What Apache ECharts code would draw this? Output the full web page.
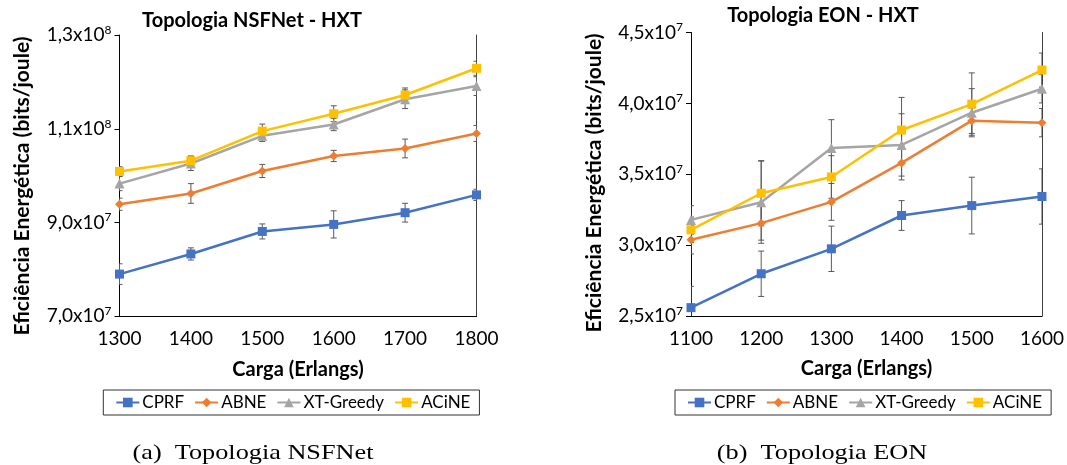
<!DOCTYPE html>
<html>
<head>
<meta charset="utf-8">
<script src="https://cdn.jsdelivr.net/npm/echarts@6/dist/echarts.min.js"></script>
<style>
html,body{margin:0;padding:0;background:#fff;}
#chart{width:1067px;height:465px;}
</style>
</head>
<body>
<div id="chart"></div>
<script>
// ---------- Data ----------
const seriesNames = ['CPRF', 'ABNE', 'XT-Greedy', 'ACiNE'];

// (a) NSFNet
const nsfCategories = ['1300', '1400', '1500', '1600', '1700', '1800'];
const nsfCPRF  = [7.90e7, 8.33e7, 8.81e7, 8.96e7, 9.21e7, 9.59e7];
const nsfABNE  = [9.39e7, 9.62e7, 1.010e8, 1.042e8, 1.058e8, 1.090e8];
const nsfXT    = [9.83e7, 1.026e8, 1.085e8, 1.109e8, 1.163e8, 1.191e8];
const nsfACiNE = [1.009e8, 1.032e8, 1.095e8, 1.132e8, 1.172e8, 1.229e8];
const nsfErrCPRF  = [2.2e6, 1.3e6, 1.6e6, 2.9e6, 2.0e6, 1.2e6];
const nsfErrABNE  = [1.3e6, 2.1e6, 1.4e6, 1.2e6, 2.0e6, 1.7e6];
const nsfErrXT    = [1.5e6, 1.5e6, 1.2e6, 1.3e6, 2.0e6, 2.0e6];
const nsfErrACiNE = [1.0e6, 1.0e6, 1.5e6, 1.7e6, 1.5e6, 1.5e6];
const nsfYTicks = [7e7, 9e7, 1.1e8, 1.3e8];
const nsfYLabels = ['7,0x10|7', '9,0x10|7', '1,1x10|8', '1,3x10|8'];

// (b) EON
const eonCategories = ['1100', '1200', '1300', '1400', '1500', '1600'];
const eonCPRF  = [2.559e7, 2.798e7, 2.974e7, 3.209e7, 3.279e7, 3.343e7];
const eonABNE  = [3.038e7, 3.155e7, 3.305e7, 3.580e7, 3.878e7, 3.864e7];
const eonXT    = [3.178e7, 3.303e7, 3.685e7, 3.707e7, 3.934e7, 4.103e7];
const eonACiNE = [3.108e7, 3.366e7, 3.481e7, 3.812e7, 3.995e7, 4.235e7];
const eonErrCPRF  = [1.5e6, 1.6e6, 1.6e6, 1.05e6, 2.0e6, 1.95e6];
const eonErrABNE  = [1.0e6, 1.2e6, 1.3e6, 1.2e6, 0.9e6, 1.0e6];
const eonErrXT    = [1.0e6, 2.9e6, 2.0e6, 2.2e6, 1.7e6, 1.0e6];
const eonErrACiNE = [0.9e6, 2.3e6, 1.5e6, 2.3e6, 2.2e6, 1.2e6];
const eonYTicks = [2.5e7, 3.0e7, 3.5e7, 4.0e7, 4.5e7];
const eonYLabels = ['2,5x10|7', '3,0x10|7', '3,5x10|7', '4,0x10|7', '4,5x10|7'];

// ---------- Styles ----------
const colors = ['#4472C4', '#ED7D31', '#A5A5A5', '#FFC000'];
const symbols = ['rect', 'diamond', 'triangle', 'rect'];
const symbolSizes = [9, 9, 10, 9];
const FONT = 'Lato, "Open Sans", sans-serif';

function labelFormatter(ticks, labels) {
  return function (v) {
    for (let i = 0; i < ticks.length; i++) {
      if (Math.abs(ticks[i] - v) < 1) {
        const parts = labels[i].split('|');
        return '{m|' + parts[0] + '}{s|' + parts[1] + '}';
      }
    }
    return '';
  };
}

function errRender(params, api) {
  const x = api.value(0);
  const lo = api.coord([x, api.value(1)]);
  const hi = api.coord([x, api.value(2)]);
  const w = 3;
  const st = { stroke: '#5a5a5a', lineWidth: 1 };
  return {
    type: 'group',
    children: [
      { type: 'line', shape: { x1: lo[0], y1: lo[1], x2: hi[0], y2: hi[1] }, style: st },
      { type: 'line', shape: { x1: lo[0] - w, y1: lo[1], x2: lo[0] + w, y2: lo[1] }, style: st },
      { type: 'line', shape: { x1: hi[0] - w, y1: hi[1], x2: hi[0] + w, y2: hi[1] }, style: st }
    ]
  };
}

function makeSeries(gridIdx, valuesList, errList) {
  const out = [];
  valuesList.forEach((vals, k) => {
    out.push({
      type: 'custom',
      name: seriesNames[k] + ' err',
      xAxisIndex: gridIdx, yAxisIndex: gridIdx * 2,
      renderItem: errRender,
      encode: { x: 0, y: [1, 2] },
      data: vals.map((v, i) => [i, v - errList[k][i], v + errList[k][i]]),
      z: 1, silent: true, clip: true
    });
  });
  valuesList.forEach((vals, k) => {
    out.push({
      type: 'line',
      name: seriesNames[k],
      xAxisIndex: gridIdx, yAxisIndex: gridIdx * 2,
      data: vals,
      symbol: symbols[k],
      symbolSize: symbolSizes[k],
      showAllSymbol: true,
      lineStyle: { color: colors[k], width: 2.5 },
      itemStyle: { color: colors[k] },
      z: 3, animation: false, clip: false
    });
  });
  return out;
}

function yAxes(gridIdx, min, max, ticks, labels) {
  return [
    {
      type: 'value', gridIndex: gridIdx, min: min, max: max,
      splitLine: { show: false },
      axisLine: { show: true, lineStyle: { color: '#000', width: 1 } },
      axisTick: { show: true, inside: false, length: 5, customValues: ticks, lineStyle: { color: '#000' } },
      axisLabel: {
        customValues: ticks,
        margin: 8,
        formatter: labelFormatter(ticks, labels),
        rich: {
          m: { fontFamily: FONT, fontSize: 19, color: '#000' },
          s: { fontFamily: FONT, fontSize: 12, color: '#000', verticalAlign: 'bottom', padding: [0, 0, 10, 0] }
        }
      }
    },
    {
      type: 'value', gridIndex: gridIdx, min: min, max: max, position: 'right',
      splitLine: { show: false },
      axisLine: { show: true, lineStyle: { color: '#404040', width: 1 } },
      axisTick: { show: false }, axisLabel: { show: false }
    }
  ];
}

function xAxis(gridIdx, cats) {
  return {
    type: 'category', gridIndex: gridIdx, data: cats, boundaryGap: false,
    axisLine: { show: true, lineStyle: { color: '#000', width: 1 } },
    axisTick: { show: false },
    axisLabel: { margin: 13, fontFamily: FONT, fontSize: 19, color: '#000' },
    name: 'Carga (Erlangs)', nameLocation: 'middle', nameGap: 43,
    nameTextStyle: { fontFamily: FONT, fontSize: 20, fontWeight: 'bold', color: '#000' }
  };
}

function legend(left) {
  return {
    data: seriesNames,
    left: left, top: 390,
    orient: 'horizontal',
    padding: [4, 9, 4, 12],
    itemGap: 10, itemWidth: 23, itemHeight: 12,
    borderColor: '#333', borderWidth: 1,
    textStyle: { fontFamily: FONT, fontSize: 17, color: '#000', padding: [0, 0, 0, -2] },
    selectedMode: false
  };
}

const option = {
  backgroundColor: '#fff',
  animation: false,
  color: colors,
  grid: [
    { left: 119.5, top: 35, width: 357, height: 281.3, containLabel: false },
    { left: 691, top: 32.5, width: 355.7, height: 283.5, containLabel: false }
  ],
  xAxis: [xAxis(0, nsfCategories), xAxis(1, eonCategories)],
  yAxis: [].concat(
    yAxes(0, 7e7, 1.3e8, nsfYTicks, nsfYLabels),
    yAxes(1, 2.5e7, 4.5e7, eonYTicks, eonYLabels)
  ),
  legend: [legend(103.3), legend(675)],
  series: [].concat(
    makeSeries(0, [nsfCPRF, nsfABNE, nsfXT, nsfACiNE], [nsfErrCPRF, nsfErrABNE, nsfErrXT, nsfErrACiNE]),
    makeSeries(1, [eonCPRF, eonABNE, eonXT, eonACiNE], [eonErrCPRF, eonErrABNE, eonErrXT, eonErrACiNE])
  ),
  graphic: [
    { type: 'text', x: 252, y: 21, style: { text: 'Topologia NSFNet - HXT', font: 'bold 20px ' + FONT, fill: '#000', textAlign: 'center', textVerticalAlign: 'middle' } },
    { type: 'text', x: 823, y: 16, style: { text: 'Topologia EON - HXT', font: 'bold 20px ' + FONT, fill: '#000', textAlign: 'center', textVerticalAlign: 'middle' } },
    { type: 'text', x: 22, y: 186, rotation: Math.PI / 2, style: { text: 'Eficiência Energética (bits/joule)', font: 'bold 21px ' + FONT, fill: '#000', textAlign: 'center', textVerticalAlign: 'middle' } },
    { type: 'text', x: 594, y: 183, rotation: Math.PI / 2, style: { text: 'Eficiência Energética (bits/joule)', font: 'bold 21px ' + FONT, fill: '#000', textAlign: 'center', textVerticalAlign: 'middle' } },
    { type: 'text', x: 253, y: 453, scaleX: 1.25, style: { text: '(a)  Topologia NSFNet', font: '21px "Liberation Serif", "DejaVu Serif", serif', fill: '#000', textAlign: 'center', textVerticalAlign: 'middle' } },
    { type: 'text', x: 822, y: 453, scaleX: 1.25, style: { text: '(b)  Topologia EON', font: '21px "Liberation Serif", "DejaVu Serif", serif', fill: '#000', textAlign: 'center', textVerticalAlign: 'middle' } }
  ]
};

const chart = echarts.init(document.getElementById('chart'), null, { renderer: 'canvas' });
chart.setOption(option);
</script>
</body>
</html>
